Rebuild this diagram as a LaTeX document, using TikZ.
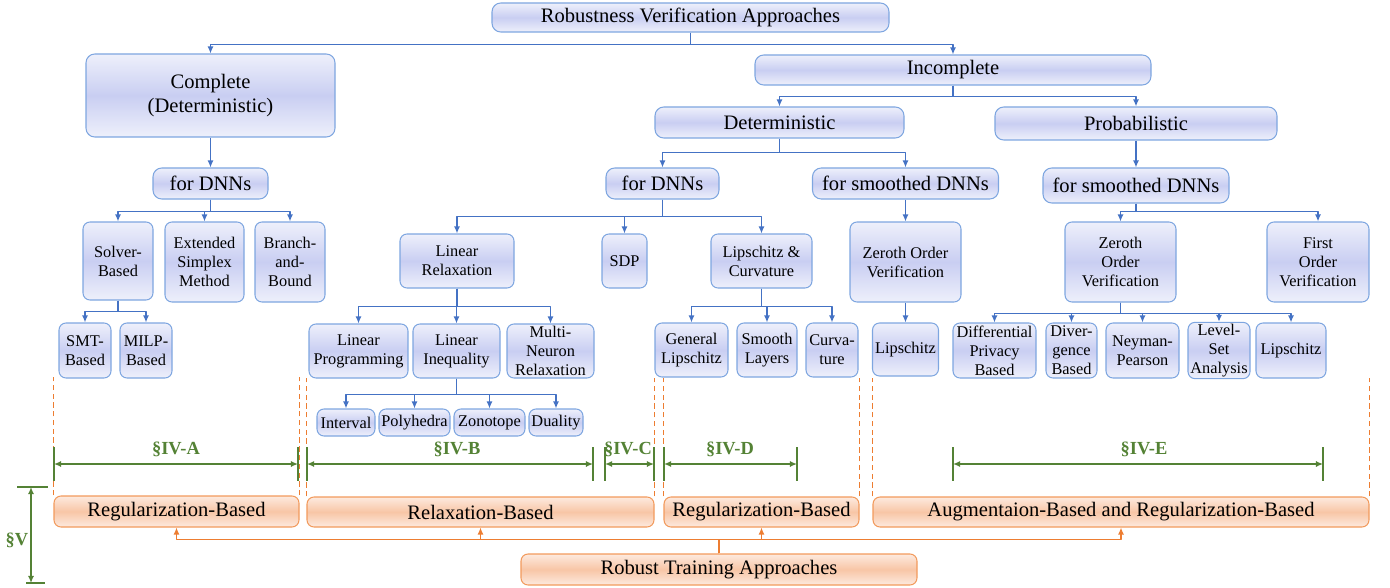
\documentclass[tikz,border=0pt]{standalone}
\usepackage{fontspec}
\setmainfont{Liberation Serif}
\usetikzlibrary{arrows.meta}
\definecolor{btop}{HTML}{EEF0FB}
\definecolor{bmid}{HTML}{C9CEF2}
\definecolor{bline}{HTML}{7EA6E0}
\definecolor{bconn}{HTML}{4472C4}
\definecolor{otop}{HTML}{FDEADF}
\definecolor{omid}{HTML}{F8C6A6}
\definecolor{oline}{HTML}{F29A5C}
\definecolor{oconn}{HTML}{ED7D31}
\definecolor{dgreen}{HTML}{548235}
\tikzset{
  bx/.style 2 args={minimum width=#1*0.02cm, minimum height=#2*0.02cm},
  vbox/.style={draw=bline, line width=0.6pt, top color=btop, bottom color=btop, middle color=bmid, inner sep=1pt},
  bigbox/.style={vbox, rounded corners=5pt, font=\fontsize{11.7}{13.7}\selectfont},
  smallbox/.style={vbox, rounded corners=4pt, align=center, font=\fontsize{9.3}{10.8}\selectfont},
  obox/.style={draw=oline, line width=0.6pt, top color=otop, bottom color=otop, middle color=omid, rounded corners=4pt, inner sep=1pt, font=\fontsize{11.7}{13.7}\selectfont},
  conn/.style={draw=bconn, line width=0.8pt},
  oconnline/.style={draw=oconn, line width=0.8pt},
  odash/.style={draw=oconn, line width=0.6pt, dash pattern=on 3pt off 2pt},
  dimline/.style={draw=dgreen, line width=0.9pt},
  sec/.style={text=dgreen, font=\fontsize{10.5}{12}\selectfont\bfseries, inner sep=0pt}
}
\begin{document}
\begin{tikzpicture}[x=0.02cm, y=-0.02cm, line join=round, >={Latex[length=4pt,width=3.5pt]}]
\useasboundingbox (0,0) rectangle (1390,588);
% verification tree
\node[bigbox, bx={397}{29}] (top) at (690.5,17.5) {Robustness Verification Approaches};
\node[bigbox, align=center, bx={249}{83}] (cmp) at (210.5,95.5) {Complete\\(Deterministic)};
\node[bigbox, bx={115}{31}] (fd1) at (210.5,183.5) {for DNNs};
\node[bigbox, bx={396}{30}] (inc) at (953,70) {Incomplete};
\node[bigbox, bx={249}{31}] (det) at (779.5,122.5) {Deterministic};
\node[bigbox, bx={282}{33}] (prb) at (1136,123.5) {Probabilistic};
\node[bigbox, bx={113}{31}] (fd2) at (662.5,183.5) {for DNNs};
\node[bigbox, bx={186}{31}] (fs1) at (905.5,183.5) {for smoothed DNNs};
\node[bigbox, bx={186}{35}] (fs2) at (1136,185.5) {for smoothed DNNs};

\node[smallbox, bx={70}{78}] (slv) at (118,261) {Solver-\\Based};
\node[smallbox, bx={79}{80}] (ext) at (204.5,262) {Extended\\Simplex\\Method};
\node[smallbox, bx={70}{80}] (bnb) at (290,262) {Branch-\\and-\\Bound};
\node[smallbox, bx={52}{55}] (smt) at (85,350.5) {SMT-\\Based};
\node[smallbox, bx={52}{55}] (mil) at (146,350.5) {MILP-\\Based};

\node[smallbox, bx={114}{54}] (lrx) at (457,261) {Linear\\Relaxation};
\node[smallbox, bx={45}{54}] (sdp) at (624.5,261) {SDP};
\node[smallbox, bx={101}{54}] (lcv) at (761.5,261) {Lipschitz \&\\Curvature};
\node[smallbox, bx={99}{54}] (lpr) at (358.5,351) {Linear\\Programming};
\node[smallbox, bx={87}{54}] (lin) at (456.5,351) {Linear\\Inequality};
\node[smallbox, bx={87}{54}] (mnr) at (550.5,351) {Multi-\\Neuron\\Relaxation};
\node[smallbox, bx={58}{27}] (itv) at (346,422.5) {Interval};
\node[smallbox, bx={71}{27}] (ply) at (414.5,422.5) {Polyhedra};
\node[smallbox, bx={71}{27}] (zon) at (489.5,422.5) {Zonotope};
\node[smallbox, bx={54}{27}] (dua) at (556,422.5) {Duality};
\node[smallbox, bx={73}{54}] (gli) at (691.5,350) {General\\Lipschitz};
\node[smallbox, bx={60}{54}] (sml) at (767,350) {Smooth\\Layers};
\node[smallbox, bx={52}{54}] (crv) at (832,350) {Curva-\\ture};

\node[smallbox, bx={111}{80}] (zo1) at (905.5,262) {Zeroth Order\\Verification};
\node[smallbox, bx={66}{53}] (lp1) at (905.5,349.5) {Lipschitz};
\node[smallbox, bx={111}{80}] (zo2) at (1120.5,262) {Zeroth\\Order\\Verification};
\node[smallbox, bx={102}{80}] (fov) at (1318,262) {First\\Order\\Verification};
\node[smallbox, bx={83}{55}] (dpb) at (994.5,350.5) {Differential\\Privacy\\Based};
\node[smallbox, bx={51}{55}] (dvb) at (1071.5,350.5) {Diver-\\gence\\Based};
\node[smallbox, bx={73}{55}] (nyp) at (1142.5,350.5) {Neyman-\\Pearson};
\node[smallbox, bx={62}{55}] (lsa) at (1219,350.5) {Level-\\Set\\Analysis};
\node[smallbox, bx={70}{55}] (lp2) at (1291,350.5) {Lipschitz};

\draw[conn,->] (top.south) -- ++(0,12) -| (cmp.north);
\draw[conn,->] (top.south) -- ++(0,12) -| (inc.north);
\draw[conn,->] (cmp.south) -- (fd1.north);
\foreach \c in {slv,ext,bnb} \draw[conn,->] (fd1.south) -- ++(0,12) -| (\c.north);
\foreach \c in {smt,mil} \draw[conn,->] (slv.south) -- ++(0,11) -| (\c.north);
\foreach \c in {det,prb} \draw[conn,->] (inc.south) -- ++(0,11) -| (\c.north);
\foreach \c in {fd2,fs1} \draw[conn,->] (det.south) -- ++(0,14) -| (\c.north);
\foreach \c in {lrx,sdp,lcv} \draw[conn,->] (fd2.south) -- ++(0,17) -| (\c.north);
\foreach \c in {lpr,lin,mnr} \draw[conn,->] (lrx.south) -- ++(0,18) -| (\c.north);
\foreach \c in {itv,ply,zon,dua} \draw[conn,->] (lin.south) -- ++(0,16) -| (\c.north);
\foreach \c in {gli,sml,crv} \draw[conn,->] (lcv.south) -- ++(0,18) -| (\c.north);
\draw[conn,->] (fs1.south) -- (zo1.north);
\draw[conn,->] (zo1.south) -- (lp1.north);
\draw[conn,->] (prb.south) -- (fs2.north);
\foreach \c in {zo2,fov} \draw[conn,->] (fs2.south) -- ++(0,8) -| (\c.north);
\foreach \c in {dpb,dvb,nyp,lsa,lp2} \draw[conn,->] (zo2.south) -- ++(0,11) -| (\c.north);

% training boxes
\node[obox, bx={245}{31}] (rg1) at (176.5,511.5) {Regularization-Based};
\node[obox, bx={347}{30}] (rlx) at (480.5,512) {Relaxation-Based};
\node[obox, bx={195}{30}] (rg2) at (761.5,512) {Regularization-Based};
\node[obox, bx={496}{30}] (aug) at (1121,512) {Augmentaion-Based and Regularization-Based};
\node[obox, bx={396}{31}] (rta) at (719,569.5) {Robust Training Approaches};
\foreach \c in {rg1,rlx,rg2,aug} \draw[oconnline,->] (rta.north) -- ++(0,-14) -| (\c.south);
\foreach \c in {rg1,rlx,rg2,aug} \draw[odash] (\c.north west) -- ++(0,-118) (\c.north east) -- ++(0,-118);

% sections
\foreach \a/\b/\m/\s in {54/298/176/A, 307/593/457/B, 605/654/628/C, 664/797/730/D, 953/1323/1144/E}{
  \coordinate (L\s) at (\a,464);
  \coordinate (R\s) at (\b,464);
  \draw[dimline] (\a,447) -- (\a,481) (\b,447) -- (\b,481);
  \draw[dimline,<->] (L\s) -- (R\s);
  \node[sec] (sec\s) at (\m,449) {\S IV-\s};
}
\coordinate (vt) at (31,487);
\coordinate (vb) at (31,583);
\draw[dimline] (17,487) -- (48,487) (26,583) -- (45,583);
\draw[dimline,<->] (vt) -- (vb);
\node[sec] (secV) at (17,540) {\S V};
\end{tikzpicture}
\end{document}
